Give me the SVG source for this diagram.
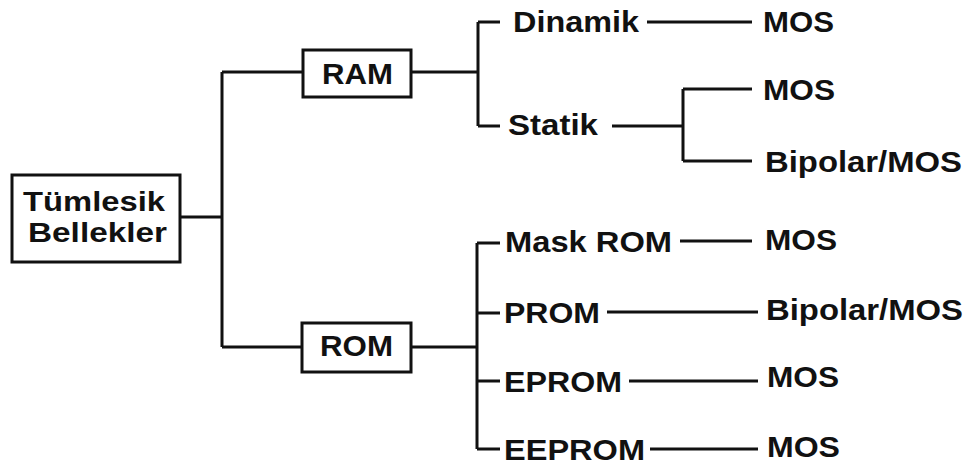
<svg xmlns="http://www.w3.org/2000/svg" width="968" height="465" viewBox="0 0 968 465">
<style>
.ln{stroke:#111;stroke-width:3;fill:none}
.bx{stroke:#111;stroke-width:3;fill:#fff}
.t{font-family:"Liberation Sans",Arial,sans-serif;font-weight:bold;font-size:30px;fill:#111}
.s{font-size:27px}
</style>
<rect width="968" height="465" fill="#fff"/>
<g id="connectors">
<path class="ln" d="M180 217H222M222 72V347M222 72H303M222 347H302"/>
<path class="ln" d="M411 72H478M478 22V126M478 22H500M478 126H500"/>
<path class="ln" d="M647 22H752"/>
<path class="ln" d="M612 126H683M683 89V161M683 89H752M683 161H752"/>
<path class="ln" d="M411 347H477M477 243V449M477 243H500M477 313H500M477 381H500M477 449H500"/>
<path class="ln" d="M680 241H752M607 312H758M629 381H758M650 449H758"/>
</g>
<g id="tumlesik"><rect class="bx" x="12" y="175" width="168" height="87"/>
<text class="t s" x="23" y="211" textLength="142" lengthAdjust="spacingAndGlyphs">Tümlesik</text>
<text class="t s" x="28" y="242" textLength="139" lengthAdjust="spacingAndGlyphs">Bellekler</text></g>
<g id="ram"><rect class="bx" x="303" y="50" width="108" height="47"/>
<text class="t" x="322" y="84" textLength="71" lengthAdjust="spacingAndGlyphs">RAM</text></g>
<g id="rom"><rect class="bx" x="302" y="323" width="109" height="49"/>
<text class="t" x="320" y="356" textLength="73" lengthAdjust="spacingAndGlyphs">ROM</text></g>
<g id="dinamik"><text class="t" x="513" y="32" textLength="126" lengthAdjust="spacingAndGlyphs">Dinamik</text></g>
<g id="statik"><text class="t" x="508" y="135" textLength="90" lengthAdjust="spacingAndGlyphs">Statik</text></g>
<g id="mos1"><text class="t" x="763" y="32" textLength="71" lengthAdjust="spacingAndGlyphs">MOS</text></g>
<g id="mos2"><text class="t" x="763" y="100" textLength="72" lengthAdjust="spacingAndGlyphs">MOS</text></g>
<g id="bipolar1"><text class="t" x="765" y="172" textLength="197" lengthAdjust="spacingAndGlyphs">Bipolar/MOS</text></g>
<g id="maskrom"><text class="t" x="505" y="252" textLength="167" lengthAdjust="spacingAndGlyphs">Mask ROM</text></g>
<g id="prom"><text class="t" x="504" y="323" textLength="96" lengthAdjust="spacingAndGlyphs">PROM</text></g>
<g id="eprom"><text class="t" x="504" y="392" textLength="118" lengthAdjust="spacingAndGlyphs">EPROM</text></g>
<g id="eeprom"><text class="t" x="504" y="460" textLength="141" lengthAdjust="spacingAndGlyphs">EEPROM</text></g>
<g id="mos3"><text class="t" x="765" y="250" textLength="72" lengthAdjust="spacingAndGlyphs">MOS</text></g>
<g id="bipolar2"><text class="t" x="766" y="320" textLength="197" lengthAdjust="spacingAndGlyphs">Bipolar/MOS</text></g>
<g id="mos4"><text class="t" x="767" y="387" textLength="72" lengthAdjust="spacingAndGlyphs">MOS</text></g>
<g id="mos5"><text class="t" x="767" y="457" textLength="73" lengthAdjust="spacingAndGlyphs">MOS</text></g>
</svg>
